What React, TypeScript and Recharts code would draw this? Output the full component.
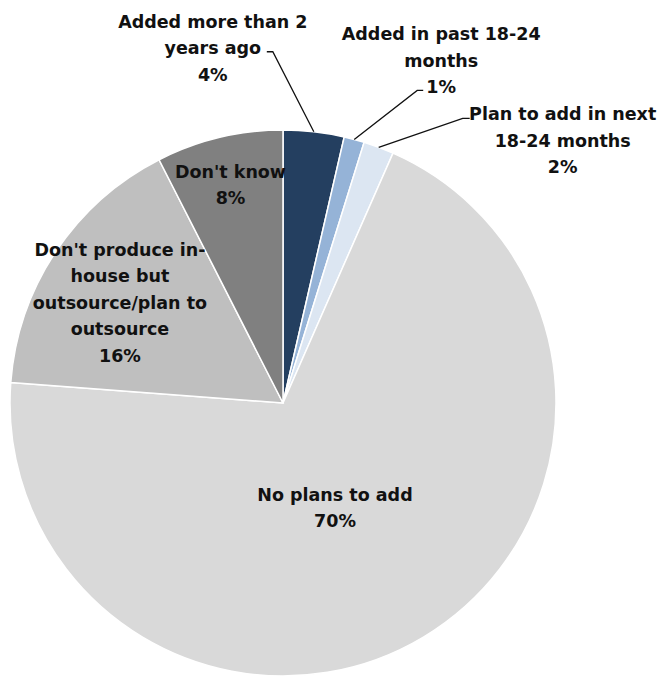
import { PieChart, Pie, Cell } from 'recharts'

const CATEGORIES = [
  ['Added more than 2', 'years ago'],
  ['Added in past 18-24', 'months'],
  ['Plan to add in next', '18-24 months'],
  ['No plans to add'],
  ["Don't produce in-", 'house but', 'outsource/plan to', 'outsource'],
  ["Don't know"],
]
const VALUES = [3.6, 1.2, 1.8, 69.6, 16.3, 7.5]
const PCT_LABELS = ['4%', '1%', '2%', '70%', '16%', '8%']

const COLORS = ['#243f60', '#95b3d7', '#dce6f2', '#d9d9d9', '#bfbfbf', '#808080']

const RAD = Math.PI / 180
const LINE_H = 26.5
const FONT = '"DejaVu Sans", sans-serif'

type Layout =
  | { kind: 'inside'; f: number; dx: number; dy: number }
  | { kind: 'outside'; elbow: [number, number]; tail: number; tx: number; ty: number }

// label placement per slice (inside: radial fraction; outside: leader elbow + text offset)
const LAYOUT: Layout[] = [
  { kind: 'outside', elbow: [-41, -80], tail: -6, tx: -60, ty: -24 },
  { kind: 'outside', elbow: [63, -49], tail: 6, tx: 24, ty: -50 },
  { kind: 'outside', elbow: [84, -29], tail: 7, tx: 100, ty: 2 },
  { kind: 'inside', f: 0.42, dx: -7, dy: 6 },
  { kind: 'inside', f: 0.7, dx: -4, dy: 5 },
  { kind: 'inside', f: 0.824, dx: 0, dy: 0 },
]

const data = VALUES.map((v, i) => ({ name: CATEGORIES[i].join(' '), value: v, idx: i }))

function renderLabel(props: any) {
  const { cx, cy, midAngle, outerRadius, index } = props
  const lines = [...CATEGORIES[index], PCT_LABELS[index]]
  const lay = LAYOUT[index]
  const cos = Math.cos(-midAngle * RAD)
  const sin = Math.sin(-midAngle * RAD)
  const textStyle = { fontFamily: FONT, fontWeight: 700, fontSize: 17.5, fill: '#111' }

  if (lay.kind === 'inside') {
    const r = outerRadius * lay.f
    const x = cx + r * cos + lay.dx
    const y = cy + r * sin + lay.dy
    const first = y - ((lines.length - 1) * LINE_H) / 2 + 6.5
    return (
      <text key={`l-${index}`} x={x} y={first} textAnchor="middle" style={textStyle}>
        {lines.map((t, i) => (
          <tspan key={i} x={x} y={first + i * LINE_H}>
            {t}
          </tspan>
        ))}
      </text>
    )
  }

  const sx = cx + outerRadius * cos
  const sy = cy + outerRadius * sin
  const ex = sx + lay.elbow[0]
  const ey = sy + lay.elbow[1]
  const tx = ex + lay.tx
  const ty = ey + lay.ty
  return (
    <g key={`l-${index}`}>
      <polyline
        points={`${sx},${sy} ${ex},${ey} ${ex + lay.tail},${ey}`}
        fill="none"
        stroke="#111"
        strokeWidth={1.3}
      />
      <text x={tx} y={ty} textAnchor="middle" style={textStyle}>
        {lines.map((t, i) => (
          <tspan key={i} x={tx} y={ty + i * LINE_H}>
            {t}
          </tspan>
        ))}
      </text>
    </g>
  )
}

export default function App() {
  return (
    <div style={{ position: 'absolute', left: 0, top: 0, width: 660, height: 677, background: '#fff' }}>
      <PieChart width={660} height={677} margin={{ top: 0, right: 0, bottom: 0, left: 0 }}>
        <Pie
          data={data}
          dataKey="value"
          cx={283}
          cy={403}
          outerRadius={273}
          startAngle={90}
          endAngle={-270}
          stroke="#fff"
          strokeWidth={1.5}
          label={renderLabel}
          labelLine={false}
          isAnimationActive={false}
        >
          {data.map((_, i) => (
            <Cell key={i} fill={COLORS[i]} />
          ))}
        </Pie>
      </PieChart>
    </div>
  )
}
